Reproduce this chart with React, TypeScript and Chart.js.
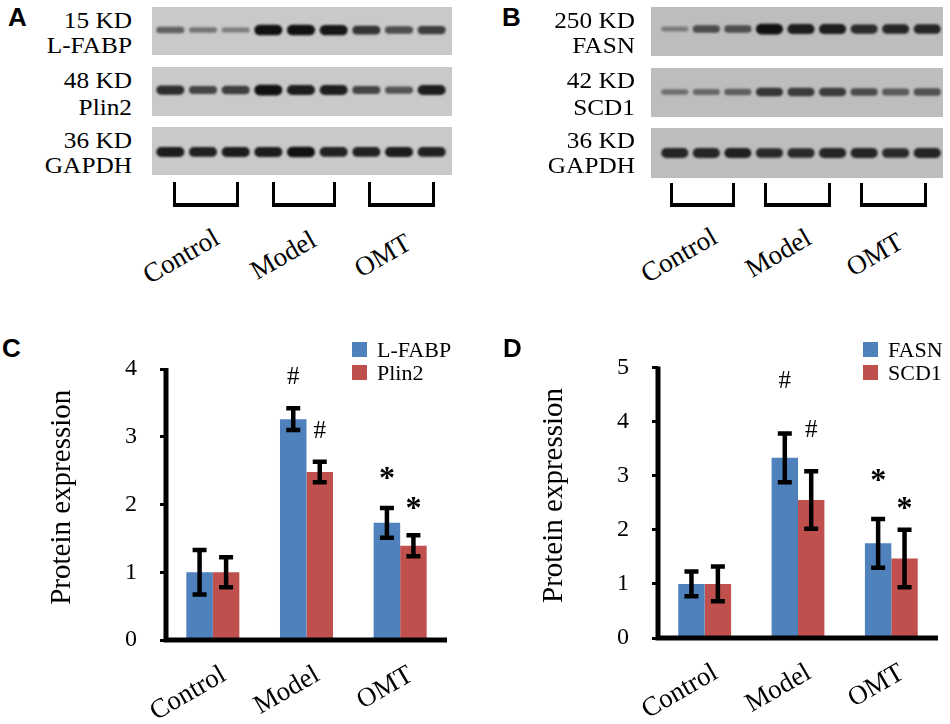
import React, { useEffect, useRef } from 'react';
import { Chart, registerables } from 'chart.js';

Chart.register(...registerables);

const SERIF = '"Liberation Serif", "Times New Roman", serif';
const SANS = '"Liberation Sans", Arial, sans-serif';
Chart.defaults.font.family = SERIF;
Chart.defaults.color = '#000';

// ---------- Bar chart data ----------
const groups = ['Control', 'Model', 'OMT'];

const lfabpMean = [1.0, 3.26, 1.73];
const lfabpErr = [0.33, 0.16, 0.22];
const lfabpMarks = ['', '#', '*'];
const lfabpMarkY = [0, 3.91, 2.46];

const plin2Mean = [1.0, 2.48, 1.39];
const plin2Err = [0.22, 0.15, 0.155];
const plin2Marks = ['', '#', '*'];
const plin2MarkY = [0, 3.11, 2.02];

const fasnMean = [1.0, 3.33, 1.75];
const fasnErr = [0.23, 0.45, 0.45];
const fasnMarks = ['', '#', '*'];
const fasnMarkY = [0, 4.78, 3.02];

const scd1Mean = [1.0, 2.55, 1.47];
const scd1Err = [0.32, 0.53, 0.53];
const scd1Marks = ['', '#', '*'];
const scd1MarkY = [0, 3.87, 2.49];

const cMax = 4;
const dMax = 5;

// ---------- Western blot band strengths (0..1), 9 lanes ----------
const lanes = ['C1', 'C2', 'C3', 'M1', 'M2', 'M3', 'O1', 'O2', 'O3'];
const lfabpBands = [0.5, 0.38, 0.33, 1.0, 1.0, 0.97, 0.78, 0.62, 0.72];
const plin2Bands = [0.82, 0.68, 0.72, 1.0, 0.92, 0.92, 0.68, 0.58, 0.92];
const gapdhABands = [0.93, 0.9, 0.93, 0.93, 1.0, 0.9, 0.9, 0.93, 0.9];
const fasnBands = [0.3, 0.62, 0.6, 1.0, 0.92, 0.92, 0.82, 0.86, 0.86];
const scd1Bands = [0.38, 0.42, 0.48, 0.75, 0.72, 0.72, 0.62, 0.52, 0.58];
const gapdhBBands = [0.86, 0.86, 0.9, 0.84, 0.84, 0.86, 0.86, 0.84, 0.86];

const blotLabelsA = ['15 KD', 'L-FABP', '48 KD', 'Plin2', '36 KD', 'GAPDH'];
const blotLabelsB = ['250 KD', 'FASN', '42 KD', 'SCD1', '36 KD', 'GAPDH'];
const seriesC = ['L-FABP', 'Plin2'];
const seriesD = ['FASN', 'SCD1'];
const yTitle = 'Protein expression';

const BLUE = '#4f81bd';
const RED = '#c0504d';

// ---------- plugins ----------
const axesPlugin = {
  id: 'thickAxes',
  afterDatasetsDraw(chart: any) {
    const { ctx, chartArea } = chart;
    ctx.save();
    ctx.strokeStyle = '#000';
    ctx.lineWidth = 5;
    ctx.lineCap = 'butt';
    ctx.beginPath();
    ctx.moveTo(chartArea.left, chartArea.top - 1);
    ctx.lineTo(chartArea.left, chartArea.bottom + 2.5);
    ctx.moveTo(chartArea.left - 2.5, chartArea.bottom);
    ctx.lineTo(chartArea.right, chartArea.bottom);
    ctx.stroke();
    ctx.restore();
  },
};

const errorBarPlugin = {
  id: 'errorBars',
  afterDatasetsDraw(chart: any) {
    const { ctx } = chart;
    const y = chart.scales.y;
    chart.data.datasets.forEach((ds: any, di: number) => {
      const meta = chart.getDatasetMeta(di);
      meta.data.forEach((bar: any, i: number) => {
        const v = ds.data[i];
        const e = ds.errors[i];
        const top = y.getPixelForValue(v + e);
        const bot = y.getPixelForValue(v - e);
        ctx.save();
        ctx.strokeStyle = '#000';
        ctx.lineWidth = 4.5;
        ctx.beginPath();
        ctx.moveTo(bar.x, top);
        ctx.lineTo(bar.x, bot);
        ctx.moveTo(bar.x - 7, top);
        ctx.lineTo(bar.x + 7, top);
        ctx.moveTo(bar.x - 7, bot);
        ctx.lineTo(bar.x + 7, bot);
        ctx.stroke();
        ctx.restore();
      });
    });
  },
};

const marksPlugin = {
  id: 'marks',
  afterDatasetsDraw(chart: any) {
    const { ctx } = chart;
    const y = chart.scales.y;
    chart.data.datasets.forEach((ds: any, di: number) => {
      const meta = chart.getDatasetMeta(di);
      meta.data.forEach((bar: any, i: number) => {
        const m = ds.marks[i];
        if (!m) return;
        const py = y.getPixelForValue(ds.markY[i]);
        ctx.save();
        ctx.fillStyle = '#000';
        ctx.textAlign = 'center';
        ctx.textBaseline = 'alphabetic';
        if (m === '*') {
          ctx.font = `bold 32px ${SERIF}`;
          ctx.fillText(m, bar.x, py + 15);
        } else {
          ctx.font = `25px ${SERIF}`;
          ctx.fillText(m, bar.x, py + 8.5);
        }
        ctx.restore();
      });
    });
  },
};

function blotBgPlugin(color: string) {
  return {
    id: 'blotBg',
    beforeDraw(chart: any) {
      const { ctx, width, height } = chart;
      ctx.save();
      ctx.fillStyle = color;
      ctx.fillRect(0, 0, width, height);
      ctx.restore();
    },
    beforeDatasetsDraw(chart: any) {
      chart.ctx.save();
      chart.ctx.filter = 'blur(1.1px)';
    },
    afterDatasetsDraw(chart: any) {
      chart.ctx.restore();
    },
  };
}

// ---------- configs ----------
function barConfig(
  names: string[],
  means: number[][],
  errs: number[][],
  marks: string[][],
  markYs: number[][],
  max: number,
  pad: { left: number; top: number; right: number; bottom: number },
  yWidth: number,
  xHeight: number
): any {
  const colors = [BLUE, RED];
  return {
    type: 'bar',
    data: {
      labels: groups,
      datasets: names.map((n, k) => ({
        label: n,
        data: means[k],
        errors: errs[k],
        marks: marks[k],
        markY: markYs[k],
        backgroundColor: colors[k],
        borderWidth: 0,
        categoryPercentage: 0.566,
        barPercentage: 1.0,
      })),
    },
    options: {
      animation: false,
      responsive: false,
      maintainAspectRatio: false,
      layout: { padding: pad },
      plugins: { legend: { display: false }, tooltip: { enabled: false } },
      scales: {
        x: {
          grid: { display: false, drawTicks: false },
          border: { display: false },
          ticks: {
            color: '#000',
            font: { family: SERIF, size: 27 },
            minRotation: 30,
            maxRotation: 30,
            autoSkip: false,
            padding: 19,
            labelOffset: 11,
          },
          afterFit: (s: any) => {
            s.height = xHeight;
          },
        },
        y: {
          min: 0,
          max,
          ticks: { stepSize: 1, color: '#000', font: { family: SERIF, size: 24 }, padding: 23 },
          grid: {
            display: true,
            drawOnChartArea: false,
            drawTicks: true,
            tickLength: 6,
            tickWidth: 3,
            tickColor: '#000',
          },
          border: { display: false },
          title: {
            display: true,
            text: '\u00A0\u00A0' + yTitle,
            color: '#000',
            font: { family: SERIF, size: 29 },
          },
          afterFit: (s: any) => {
            s.width = yWidth;
          },
        },
      },
    },
    plugins: [axesPlugin, errorBarPlugin, marksPlugin],
  };
}

function blotConfig(strengths: number[], center: number, bg: string, padL: number, padR: number): any {
  return {
    type: 'bar',
    data: {
      labels: lanes,
      datasets: [
        {
          data: strengths.map((s) => {
            const t = 5 + 17 * s;
            return [center - t / 2, center + t / 2];
          }),
          backgroundColor: strengths.map((s) => `rgba(16,16,16,${(0.12 + 0.88 * s).toFixed(3)})`),
          borderWidth: 0,
          borderRadius: 100,
          borderSkipped: false,
          categoryPercentage: 0.86,
          barPercentage: 1.0,
        },
      ],
    },
    options: {
      animation: false,
      responsive: false,
      maintainAspectRatio: false,
      layout: { padding: { left: padL, right: padR, top: 0, bottom: 0 } },
      plugins: { legend: { display: false }, tooltip: { enabled: false } },
      scales: {
        x: { display: false },
        y: { display: false, min: 0, max: 100 },
      },
    },
    plugins: [blotBgPlugin(bg)],
  };
}

// ---------- components ----------
function ChartBox(props: { left: number; top: number; width: number; height: number; make: () => any }) {
  const ref = useRef<HTMLCanvasElement>(null);
  useEffect(() => {
    const chart = new Chart(ref.current as HTMLCanvasElement, props.make());
    return () => chart.destroy();
  }, []);
  return (
    <canvas
      ref={ref}
      width={props.width}
      height={props.height}
      style={{ position: 'absolute', left: props.left, top: props.top, width: props.width, height: props.height }}
    />
  );
}

function BlotLabel(props: { right: number; cy: number; text: string }) {
  const size = 23;
  return (
    <div
      style={{
        position: 'absolute',
        left: props.right - 200,
        width: 200,
        top: props.cy - 11.5,
        textAlign: 'right',
        fontSize: size,
        lineHeight: `${size}px`,
        whiteSpace: 'nowrap',
        transform: 'scaleX(1.1)',
        transformOrigin: '100% 50%',
      }}
    >
      {props.text}
    </div>
  );
}

function RotLabel(props: { x: number; y: number; text: string }) {
  return (
    <div
      style={{
        position: 'absolute',
        left: props.x,
        top: props.y,
        fontSize: 27,
        lineHeight: '27px',
        whiteSpace: 'nowrap',
        transform: 'translateX(-100%) rotate(-30deg)',
        transformOrigin: '100% 0',
      }}
    >
      {props.text}
    </div>
  );
}

function Bracket(props: { left: number; top: number; width: number; height: number }) {
  return (
    <div
      style={{
        position: 'absolute',
        left: props.left,
        top: props.top,
        width: props.width,
        height: props.height,
        boxSizing: 'border-box',
        borderLeft: '3px solid #000',
        borderRight: '3px solid #000',
        borderBottom: '4px solid #000',
      }}
    />
  );
}

function Letter(props: { x: number; y: number; text: string }) {
  return (
    <div
      style={{
        position: 'absolute',
        left: props.x,
        top: props.y,
        fontFamily: SANS,
        fontWeight: 'bold',
        fontSize: 26,
        lineHeight: '26px',
      }}
    >
      {props.text}
    </div>
  );
}

function Legend(props: { x: number; y: number; names: string[] }) {
  const colors = [BLUE, RED];
  return (
    <>
      {props.names.map((n, k) => (
        <React.Fragment key={n}>
          <div
            style={{
              position: 'absolute',
              left: props.x,
              top: props.y + k * 23,
              width: 15,
              height: 15,
              background: colors[k],
            }}
          />
          <div
            style={{
              position: 'absolute',
              left: props.x + 25,
              top: props.y + k * 23 - 3.5,
              fontSize: 22,
              lineHeight: '22px',
              whiteSpace: 'nowrap',
            }}
          >
            {n}
          </div>
        </React.Fragment>
      ))}
    </>
  );
}

export default function App() {
  const rowsA = [
    { top: 7, h: 48, s: lfabpBands, c: 52 },
    { top: 67, h: 49, s: plin2Bands, c: 53 },
    { top: 127, h: 48, s: gapdhABands, c: 48 },
  ];
  const rowsB = [
    { top: 7, h: 49, s: fasnBands, c: 55 },
    { top: 68, h: 49, s: scd1Bands, c: 51 },
    { top: 128, h: 50, s: gapdhBBands, c: 50 },
  ];
  const labelCy = [20, 45, 80, 107, 140, 165];
  return (
    <div
      style={{
        position: 'absolute',
        left: 0,
        top: 0,
        width: 950,
        height: 724,
        background: '#fff',
        overflow: 'hidden',
        fontFamily: SERIF,
        color: '#000',
      }}
    >
      {/* Panel A */}
      <Letter x={8} y={4} text="A" />
      {rowsA.map((r, i) => (
        <ChartBox key={'a' + i} left={152} top={r.top} width={300} height={r.h} make={() => blotConfig(r.s, r.c, '#c9c9c9', 2, 4)} />
      ))}
      {blotLabelsA.map((t, i) => (
        <BlotLabel key={'la' + i} right={132} cy={labelCy[i]} text={t} />
      ))}
      <Bracket left={173} top={182} width={66} height={25} />
      <Bracket left={272} top={182} width={64} height={25} />
      <Bracket left={368} top={182} width={67} height={25} />
      <RotLabel x={210} y={224} text={groups[0]} />
      <RotLabel x={307} y={226} text={groups[1]} />
      <RotLabel x={402} y={229} text={groups[2]} />

      {/* Panel B */}
      <Letter x={502} y={4} text="B" />
      {rowsB.map((r, i) => (
        <ChartBox key={'b' + i} left={651} top={r.top} width={292} height={r.h} make={() => blotConfig(r.s, r.c, '#bdbdbd', 8, 0)} />
      ))}
      {blotLabelsB.map((t, i) => (
        <BlotLabel key={'lb' + i} right={635} cy={labelCy[i]} text={t} />
      ))}
      <Bracket left={670} top={183} width={65} height={24} />
      <Bracket left={764} top={183} width={67} height={24} />
      <Bracket left={860} top={183} width={67} height={24} />
      <RotLabel x={708} y={223} text={groups[0]} />
      <RotLabel x={802} y={224} text={groups[1]} />
      <RotLabel x={894} y={228} text={groups[2]} />

      {/* Panel C */}
      <Letter x={2} y={335} text="C" />
      <ChartBox
        left={0}
        top={330}
        width={475}
        height={394}
        make={() =>
          barConfig(
            seriesC,
            [lfabpMean, plin2Mean],
            [lfabpErr, plin2Err],
            [lfabpMarks, plin2Marks],
            [lfabpMarkY, plin2MarkY],
            cMax,
            { left: 41, top: 39, right: 28, bottom: 0 },
            125,
            84
          )
        }
      />
      <Legend x={352} y={342} names={seriesC} />

      {/* Panel D */}
      <Letter x={503} y={335} text="D" />
      <ChartBox
        left={475}
        top={330}
        width={475}
        height={394}
        make={() =>
          barConfig(
            seriesD,
            [fasnMean, scd1Mean],
            [fasnErr, scd1Err],
            [fasnMarks, scd1Marks],
            [fasnMarkY, scd1MarkY],
            dMax,
            { left: 58, top: 35, right: 12, bottom: 0 },
            125,
            86
          )
        }
      />
      <Legend x={863} y={342} names={seriesD} />
    </div>
  );
}
